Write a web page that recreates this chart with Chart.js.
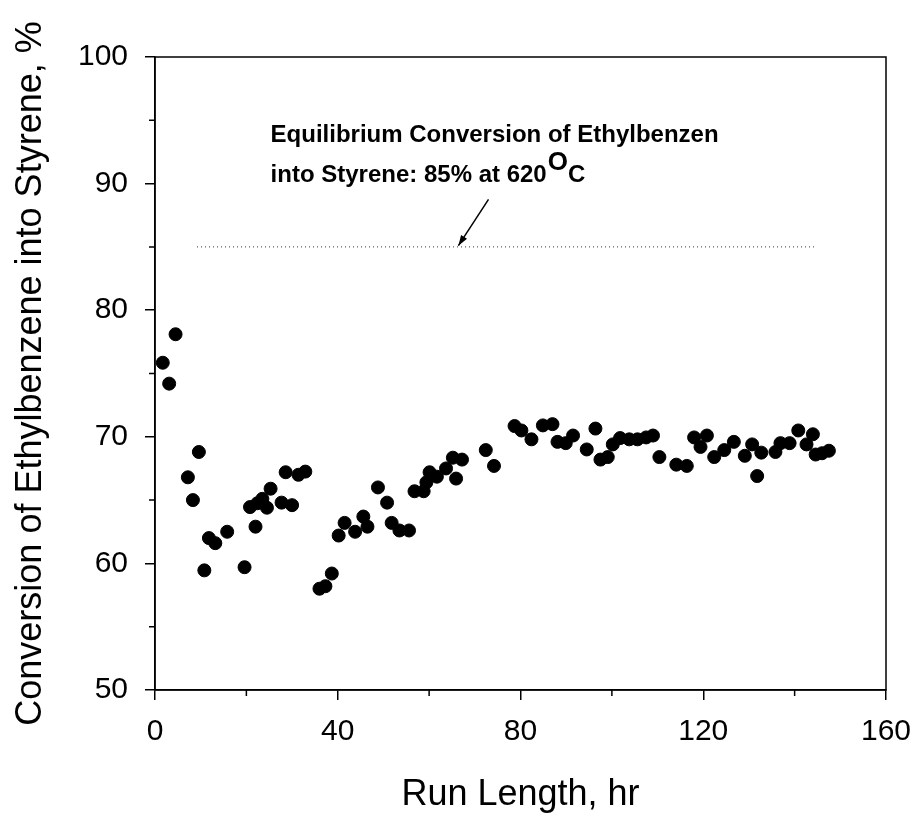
<!DOCTYPE html>
<html>
<head>
<meta charset="utf-8">
<script src="https://cdn.jsdelivr.net/npm/chart.js@4"></script>
<style>
  body { margin: 0; background: #fff; }
  #wrap { width: 916px; height: 819px; }
</style>
</head>
<body>
<div id="wrap"><canvas id="chart"></canvas></div>
<script>
// run length (hr) and conversion (%) for each sample
const runHours = [1.7, 3.1, 4.5, 7.2, 8.3, 9.6, 10.8, 11.8, 13.2, 15.8, 19.6, 20.8, 22.0, 22.4, 23.5, 24.5, 25.3, 27.7, 28.6, 30.0,
    31.4, 32.9, 36.0, 37.3, 38.7, 40.2, 41.5, 43.8, 45.6, 46.5, 48.8, 50.8, 51.8, 53.5, 55.6, 56.8, 58.8, 59.4, 60.1, 61.7,
    63.7, 65.2, 65.9, 67.2, 72.4, 74.2, 78.7, 80.2, 82.4, 84.9, 87.0, 88.1, 89.9, 91.5, 94.5, 96.4, 97.5, 99.1, 100.2, 101.8,
    103.8, 105.6, 107.5, 109.0, 110.4, 114.1, 116.4, 118.0, 119.4, 120.8, 122.4, 124.6, 126.7, 129.1, 130.7, 131.8, 132.7, 135.8, 136.9, 138.9,
    140.8, 142.6, 144.0, 144.6, 146.0, 147.5]
const conversion = [75.85, 74.2, 78.1, 66.8, 65.0, 68.8, 59.45, 62.0, 61.6, 62.5, 59.7, 64.45, 62.9, 64.75, 65.1, 64.4, 65.9, 64.8, 67.2, 64.6,
    67.0, 67.25, 58.0, 58.2, 59.2, 62.2, 63.2, 62.5, 63.7, 62.9, 66.0, 64.8, 63.2, 62.6, 62.6, 65.7, 65.7, 66.4, 67.2, 66.85,
    67.5, 68.35, 66.7, 68.2, 68.95, 67.7, 70.85, 70.5, 69.8, 70.9, 71.0, 69.6, 69.5, 70.1, 69.0, 70.65, 68.2, 68.4, 69.4, 69.9,
    69.8, 69.8, 69.95, 70.1, 68.4, 67.8, 67.7, 69.95, 69.2, 70.1, 68.4, 68.95, 69.6, 68.5, 69.4, 66.9, 68.75, 68.8, 69.5, 69.5,
    70.5, 69.4, 70.2, 68.6, 68.7, 68.9]

// equilibrium line
const eqHours = [9.2, 144.5]
const eqValue = 85

const xMinor = [20, 60, 100, 140]
const yMinor = [55, 65, 75, 85, 95]

const points = runHours.map((h, i) => ({x: h, y: conversion[i]}))

const font = '"Liberation Sans", Arial, sans-serif'

// box around plot + short minor ticks + the note with arrow
const extras = {
    id: 'extras',
    afterDraw(chart) {
        const ctx = chart.ctx
        const a = chart.chartArea
        const xs = chart.scales.x
        const ys = chart.scales.y
        ctx.save()
        ctx.strokeStyle = '#000'
        ctx.lineWidth = 1.5
        ctx.strokeRect(a.left, a.top, a.right - a.left, a.bottom - a.top)

        ctx.beginPath()
        xMinor.forEach(v => {
            const px = xs.getPixelForValue(v)
            ctx.moveTo(px, a.bottom)
            ctx.lineTo(px, a.bottom + 6)
        })
        yMinor.forEach(v => {
            const py = ys.getPixelForValue(v)
            ctx.moveTo(a.left, py)
            ctx.lineTo(a.left - 6, py)
        })
        ctx.stroke()

        // note text
        ctx.fillStyle = '#000'
        ctx.textBaseline = 'alphabetic'
        const tx = xs.getPixelForValue(25.3)
        ctx.font = 'bold 24px ' + font
        ctx.fillText('Equilibrium Conversion of Ethylbenzen', tx, 142)
        const line2 = 'into Styrene: 85% at 620'
        ctx.fillText(line2, tx, 182)
        let w = ctx.measureText(line2).width
        ctx.font = 'bold 26px ' + font
        ctx.fillText('O', tx + w + 1, 170)
        let w2 = ctx.measureText('O').width
        ctx.font = 'bold 24px ' + font
        ctx.fillText('C', tx + w + w2 + 1, 182)

        // arrow
        const x1 = xs.getPixelForValue(73.0), y1 = ys.getPixelForValue(88.76)
        const x2 = xs.getPixelForValue(66.4), y2 = ys.getPixelForValue(85.1)
        ctx.lineWidth = 1.5
        ctx.beginPath()
        ctx.moveTo(x1, y1)
        ctx.lineTo(x2, y2)
        ctx.stroke()
        const ang = Math.atan2(y2 - y1, x2 - x1)
        ctx.beginPath()
        ctx.moveTo(x2, y2)
        ctx.lineTo(x2 - 11 * Math.cos(ang - 0.33), y2 - 11 * Math.sin(ang - 0.33))
        ctx.lineTo(x2 - 11 * Math.cos(ang + 0.33), y2 - 11 * Math.sin(ang + 0.33))
        ctx.closePath()
        ctx.fill()
        ctx.restore()
    }
}

new Chart(document.getElementById('chart'), {
    type: 'scatter',
    data: {
        datasets: [{
            data: points,
            backgroundColor: '#000',
            borderColor: '#000',
            pointRadius: 6.5,
            pointHoverRadius: 6.5
        }, {
            type: 'line',
            data: eqHours.map(h => ({x: h, y: eqValue})),
            borderColor: '#333',
            borderWidth: 1,
            borderDash: [1, 3],
            pointRadius: 0,
            fill: false
        }]
    },
    plugins: [extras],
    options: {
        responsive: true,
        maintainAspectRatio: false,
        animation: false,
        layout: {padding: {top: 57, right: 30, left: 0, bottom: 0}},
        plugins: {legend: {display: false}, tooltip: {enabled: false}},
        scales: {
            x: {
                type: 'linear',
                min: 0,
                max: 160,
                ticks: {stepSize: 40, color: '#000', font: {family: font, size: 30}, padding: 14, maxRotation: 0},
                grid: {drawOnChartArea: false, tickLength: 10, color: '#000', lineWidth: 1.5},
                border: {color: '#000', width: 1.5},
                title: {display: true, text: 'Run Length, hr', color: '#000', font: {family: font, size: 36}, padding: {bottom: 2}},
                afterFit(scale) {
                    scale.height = 129
                    scale.paddingLeft = 0
                    scale.paddingRight = 0
                }
            },
            y: {
                min: 50,
                max: 100,
                ticks: {stepSize: 10, color: '#000', font: {family: font, size: 30}, padding: 17},
                grid: {drawOnChartArea: false, tickLength: 10, color: '#000', lineWidth: 1.5},
                border: {color: '#000', width: 1.5},
                title: {display: true, text: 'Conversion of Ethylbenzene into Styrene, %', color: '#000', font: {family: font, size: 36}, padding: {top: 9}},
                afterFit(scale) {
                    scale.width = 155
                    scale.paddingTop = 0
                    scale.paddingBottom = 0
                }
            }
        }
    }
})
</script>
</body>
</html>
